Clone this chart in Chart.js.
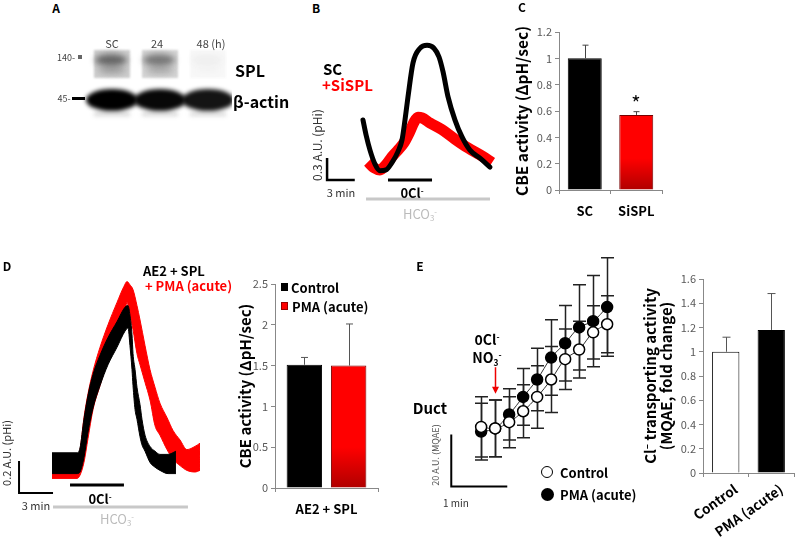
<!DOCTYPE html>
<html>
<head>
<meta charset="utf-8">
<script src="https://cdn.jsdelivr.net/npm/chart.js@4.4.0/dist/chart.umd.min.js"></script>
<style>
  body { margin: 0; background: #fff; }
  #fig { position: relative; width: 800px; height: 543px; overflow: hidden;
         font-family: "Noto Sans CJK KR", "Noto Sans", sans-serif; color: #000; }
  canvas { position: absolute; }
  .t { position: absolute; white-space: nowrap; line-height: 1; transform: translate(-50%, -50%); }
  .l { position: absolute; white-space: nowrap; line-height: 1; transform: translate(0, -50%); }
  .v { position: absolute; white-space: nowrap; line-height: 1; transform: translate(-50%, -50%) rotate(-90deg); }
  .b { font-weight: bold; }
  .sup { font-size: 0.6em; position: relative; top: -0.55em; }
  .sub { font-size: 0.6em; position: relative; top: 0.3em; }
</style>
</head>
<body>
<div id="fig">
  <canvas id="cA" width="172" height="85" style="left:60px;top:40px"></canvas>
  <canvas id="cB" width="200" height="182" style="left:310px;top:40px"></canvas>
  <canvas id="cC" width="161" height="203" style="left:509px;top:22px"></canvas>
  <canvas id="cD" width="215" height="250" style="left:0px;top:270px"></canvas>
  <canvas id="cD2" width="154" height="249" style="left:232px;top:274px"></canvas>
  <canvas id="cE" width="210" height="265" style="left:420px;top:240px"></canvas>
  <canvas id="cE2" width="160" height="274" style="left:640px;top:269px"></canvas>

  <!-- A -->
  <div class="t b" style="left:56px;top:8px;font-size:12px">A</div>
  <div class="t" style="left:112px;top:43px;font-size:11px;color:#444">SC</div>
  <div class="t" style="left:157px;top:43px;font-size:11px;color:#444">24</div>
  <div class="t" style="left:211px;top:43px;font-size:11px;color:#444">48 (h)</div>
  <div class="t" style="left:66px;top:57px;font-size:9px;color:#444">140-</div>
  <div class="t" style="left:64px;top:98px;font-size:9px;color:#444">45-</div>
  <div class="l b" style="left:235px;top:70px;font-size:16px">SPL</div>
  <div class="l b" style="left:233px;top:101px;font-size:16px">β-actin</div>

  <!-- B -->
  <div class="t b" style="left:316px;top:8px;font-size:12px">B</div>
  <div class="l b" style="left:323px;top:68px;font-size:15px">SC</div>
  <div class="l b" style="left:322px;top:84px;font-size:15px;color:#f00">+SiSPL</div>
  <div class="v" style="left:317px;top:145px;font-size:12px;color:#333">0.3 A.U. (pHi)</div>
  <div class="t" style="left:341px;top:192px;font-size:11px;color:#333">3 min</div>
  <div class="t b" style="left:412px;top:192px;font-size:13px">0Cl<span class="sup">-</span></div>
  <div class="t" style="left:420px;top:213px;font-size:13px;color:#bbb">HCO<span class="sub">3</span><span class="sup">-</span></div>

  <!-- C -->
  <div class="t b" style="left:522px;top:7px;font-size:12px">C</div>
  <div class="t" style="left:636px;top:103px;font-size:20px">*</div>

  <!-- D -->
  <div class="t b" style="left:7px;top:266px;font-size:12px">D</div>
  <div class="l b" style="left:143px;top:270px;font-size:13px">AE2 + SPL</div>
  <div class="l b" style="left:145px;top:285px;font-size:13px;color:#f00">+ PMA (acute)</div>
  <div class="v" style="left:6px;top:453px;font-size:11px;color:#333">0.2 A.U. (pHi)</div>
  <div class="t" style="left:36px;top:505px;font-size:11px;color:#333">3 min</div>
  <div class="t b" style="left:100px;top:498px;font-size:13px">0Cl<span class="sup">-</span></div>
  <div class="t" style="left:117px;top:518px;font-size:13px;color:#bbb">HCO<span class="sub">3</span><span class="sup">-</span></div>
  <div style="position:absolute;left:281px;top:283px;width:7px;height:8px;background:#000"></div>
  <div class="l b" style="left:291px;top:287px;font-size:13px">Control</div>
  <div style="position:absolute;left:281px;top:302px;width:7px;height:8px;background:#f00;box-shadow:inset 0 0 0 1px #900"></div>
  <div class="l b" style="left:292px;top:306px;font-size:13px">PMA (acute)</div>

  <!-- E -->
  <div class="t b" style="left:420px;top:266px;font-size:12px">E</div>
  <div class="t b" style="left:487px;top:339px;font-size:14px">0Cl<span class="sup">-</span></div>
  <div class="t b" style="left:487px;top:357px;font-size:14px">NO<span class="sub">3</span><span class="sup">-</span></div>
  <div class="t b" style="left:430px;top:407px;font-size:15px">Duct</div>
  <div class="v" style="left:435px;top:455px;font-size:9px;color:#555">20 A.U. (MQAE)</div>
  <div class="t" style="left:456px;top:503px;font-size:10px;color:#333">1 min</div>
  <div style="position:absolute;left:541px;top:466px;width:10px;height:10px;border:1.5px solid #000;border-radius:50%;background:#fff"></div>
  <div class="l b" style="left:560px;top:472px;font-size:13px">Control</div>
  <div style="position:absolute;left:541px;top:488px;width:13px;height:13px;border-radius:50%;background:#000"></div>
  <div class="l b" style="left:560px;top:494px;font-size:13px">PMA (acute)</div>
</div>

<script>
// ---------- data ----------
// A : western blot, relative band density per lane
const blotLanes = ['SC', '24', '48 (h)'];
const splBand = [0.8, 0.68, 0.05];
const actinBand = [1.0, 0.97, 0.92];

// B : pHi traces, time (min) / pHi (A.U.)
const bScT = [5.74, 6.07, 6.50, 7.04, 7.58, 8.23, 8.88, 9.53, 9.97, 10.29, 10.62, 11.16, 11.92, 12.68, 13.43, 13.98, 14.41, 14.95, 15.71, 16.47, 17.33, 18.42, 19.50];
const bScV = [1.39, 1.19, 0.98, 0.79, 0.70, 0.71, 0.81, 0.96, 1.12, 1.39, 1.71, 2.17, 2.37, 2.41, 2.37, 2.25, 2.05, 1.71, 1.39, 1.16, 0.98, 0.87, 0.75];
const bSiT = [6.28, 6.93, 7.58, 8.23, 8.88, 9.53, 10.18, 10.73, 11.27, 11.70, 12.13, 13.00, 14.30, 15.71, 17.12, 18.63, 19.72];
const bSiV = [0.82, 0.74, 0.71, 0.78, 0.89, 0.98, 1.08, 1.21, 1.36, 1.43, 1.42, 1.35, 1.26, 1.13, 1.01, 0.90, 0.81];
const bClSpan = [8.45, 13.22];   // 0Cl- perfusion (min)
const bHcoSpan = [6.07, 19.50];  // HCO3- perfusion (min)

// C : CBE activity
const cCats = ['SC', 'SiSPL'];
const cMean = [1.0, 0.57];
const cErr = [0.10, 0.025];

// D : pHi traces (noisy band: low / high envelope)
const dCtlT = [4.59, 6.80, 7.06, 7.41, 7.77, 8.21, 8.83, 9.53, 10.33, 11.03, 11.30, 11.47, 11.65, 11.74, 11.92, 12.09, 12.36, 12.53, 12.80, 13.24, 13.68, 14.12, 14.83, 15.53];
const dCtlHi = [0.42, 0.42, 0.45, 0.63, 0.78, 0.91, 1.03, 1.14, 1.24, 1.33, 1.34, 1.28, 1.16, 1.04, 0.94, 0.83, 0.72, 0.63, 0.53, 0.46, 0.43, 0.41, 0.41, 0.43];
const dCtlLo = [0.29, 0.29, 0.30, 0.39, 0.55, 0.70, 0.84, 0.97, 1.08, 1.18, 1.20, 1.09, 0.94, 0.84, 0.69, 0.63, 0.52, 0.47, 0.43, 0.36, 0.33, 0.31, 0.29, 0.29];
const dPmaT = [4.59, 6.80, 7.06, 7.41, 7.77, 8.21, 8.83, 9.53, 10.33, 10.94, 11.21, 11.47, 11.74, 12.09, 12.36, 12.80, 13.24, 13.68, 14.12, 14.74, 15.27, 15.89, 16.50, 17.21, 17.65];
const dPmaHi = [0.41, 0.41, 0.44, 0.64, 0.79, 0.93, 1.08, 1.22, 1.36, 1.46, 1.49, 1.47, 1.44, 1.34, 1.25, 1.09, 0.94, 0.83, 0.73, 0.64, 0.56, 0.50, 0.44, 0.46, 0.48];
const dPmaLo = [0.26, 0.26, 0.28, 0.36, 0.51, 0.69, 0.84, 1.00, 1.16, 1.26, 1.36, 1.28, 1.19, 1.04, 0.97, 0.86, 0.75, 0.59, 0.53, 0.44, 0.38, 0.34, 0.31, 0.30, 0.31];
const dClSpan = [6.18, 10.94];
const dHcoSpan = [4.68, 16.59];
const dCats = ['AE2 + SPL'];
const dCtlMean = [1.51], dCtlErr = [0.09];
const dPmaMean = [1.50], dPmaErr = [0.51];

// E : MQAE fluorescence, time (s) / A.U.
const eTime = [0, 15, 30, 45, 60, 75, 90, 105, 120, 135];
const eCtl = [27.3, 26.7, 29.1, 33.3, 38.8, 45.5, 53.3, 57.0, 63.6, 66.7];
const eCtlErr = [11.6, 10.9, 9.8, 10.2, 12.0, 12.7, 11.6, 10.9, 10.2, 10.9];
const ePma = [25.5, 26.7, 32.1, 38.8, 45.5, 53.9, 59.4, 65.5, 67.9, 73.3];
const ePmaErr = [10.9, 10.9, 9.8, 10.9, 12.0, 14.5, 14.5, 16.4, 17.5, 18.9];
const eCats = ['Control', 'PMA (acute)'];
const eMean = [1.0, 1.18];
const eErr = [0.12, 0.30];

// ---------- helpers ----------
Chart.defaults.font.family = '"Noto Sans CJK KR", "Noto Sans", sans-serif';
Chart.defaults.color = '#000';

const base = { responsive: false, animation: false, events: [] };
function opts(extra) {
  const o = Object.assign({}, base, extra);
  o.plugins = Object.assign({ legend: { display: false }, tooltip: { enabled: false } }, extra.plugins || {});
  return o;
}
const xy = (xs, ys) => xs.map((x, i) => ({ x: x, y: ys[i] }));
function line(data, color, w, extra) {
  return Object.assign({ data: data, borderColor: color, borderWidth: w, pointRadius: 0,
    fill: false, tension: 0, clip: false }, extra || {});
}
function freeScales(x0, x1, y0, y1) {
  return { x: { type: 'linear', display: false, min: x0, max: x1 },
           y: { type: 'linear', display: false, min: y0, max: y1 } };
}
function yAxis(max, step, title, size, w, lh, padTop) {
  return { min: 0, max: max,
    ticks: { stepSize: step, color: '#595959', font: { size: 11 }, padding: 3,
             callback: v => String(Math.round(v * 100) / 100) },
    grid: { drawOnChartArea: false, drawTicks: true, tickLength: 4, color: '#888' },
    border: { display: true, color: '#888' },
    title: { display: true, text: title, color: '#000', font: { size: size, weight: 'bold', lineHeight: lh || 1.2 },
             padding: { top: padTop === undefined ? 4 : padTop, bottom: 0 } },
    afterFit: s => { s.width = w; } };
}
function xAxis(h, size, pad, rot, shift) {
  return {
    grid: { drawOnChartArea: false, drawTicks: true, tickLength: 4, color: '#888', offset: true },
    border: { display: true, color: '#888' },
    ticks: { color: '#000', font: { size: size, weight: 'bold' }, padding: pad, minRotation: rot, maxRotation: rot,
             autoSkip: false, labelOffset: shift || 0 },
    afterFit: s => { s.height = h; s.paddingLeft = 0; s.paddingRight = 0; } };
}
function redGrad(c) {
  const a = c.chart.chartArea;
  if (!a) return '#f00';
  const g = c.chart.ctx.createLinearGradient(0, a.top, 0, a.bottom);
  g.addColorStop(0, '#ff0000');
  g.addColorStop(0.8, '#ff0000');
  g.addColorStop(1, '#b00000');
  return g;
}

// error bars (dataset.err holds the SEM for each point)
function drawErr(chart, o) {
  const ctx = chart.ctx;
  chart.data.datasets.forEach((ds, i) => {
    if (!ds.err) return;
    const meta = chart.getDatasetMeta(i);
    const ys = chart.scales[meta.yAxisID];
    ctx.save();
    ctx.strokeStyle = o.color;
    ctx.lineWidth = o.width;
    meta.data.forEach((el, j) => {
      const d = ds.data[j];
      const v = typeof d === 'object' ? d.y : d;
      const x = Math.round(el.x) + 0.5;
      const top = ys.getPixelForValue(v + ds.err[j]);
      const bot = o.both ? ys.getPixelForValue(v - ds.err[j]) : el.y;
      ctx.beginPath();
      ctx.moveTo(x, bot); ctx.lineTo(x, top);
      ctx.moveTo(x - o.cap / 2, top); ctx.lineTo(x + o.cap / 2, top);
      if (o.both) { ctx.moveTo(x - o.cap / 2, bot); ctx.lineTo(x + o.cap / 2, bot); }
      ctx.stroke();
    });
    ctx.restore();
  });
}
const errBars = {
  id: 'errBars',
  beforeDatasetsDraw(chart, args, o) { if (o.under) drawErr(chart, o); },
  afterDatasetsDraw(chart, args, o) { if (!o.under) drawErr(chart, o); }
};

// ---------- A : blot ----------
const blotPlugin = {
  id: 'blot',
  beforeDatasetsDraw(chart) {
    const ctx = chart.ctx, xs = chart.scales.x, a = chart.chartArea;
    ctx.save();
    blotLanes.forEach((lane, i) => {
      const cx = xs.getPixelForValue(i);
      // SPL strip
      ctx.filter = 'blur(0.8px)';
      ctx.fillStyle = 'rgba(150,150,150,' + (0.55 * splBand[i] + 0.04) + ')';
      ctx.fillRect(cx - 18, a.top + 10, 36, 28);
      ctx.filter = 'blur(3px)';
      ctx.fillStyle = 'rgba(50,50,50,' + (0.85 * splBand[i]) + ')';
      ctx.beginPath(); ctx.ellipse(cx - 1, a.top + 20, 16, 6, 0, 0, 2 * Math.PI); ctx.fill();
      ctx.fillStyle = 'rgba(90,90,90,' + (0.5 * splBand[i]) + ')';
      ctx.beginPath(); ctx.ellipse(cx, a.top + 30, 14, 4, 0, 0, 2 * Math.PI); ctx.fill();
      // beta-actin
      ctx.filter = 'blur(2px)';
      ctx.fillStyle = 'rgba(0,0,0,' + actinBand[i] + ')';
      ctx.beginPath(); ctx.ellipse(cx, a.top + 60, 26, 11, 0, 0, 2 * Math.PI); ctx.fill();
      ctx.filter = 'blur(2px)';
      ctx.fillStyle = 'rgba(90,90,90,' + (0.25 * actinBand[i]) + ')';
      ctx.fillRect(cx - 18, a.top + 72, 36, 4);
    });
    ctx.filter = 'none';
    ctx.fillStyle = '#000';
    ctx.fillRect(a.left - 16, a.top + 57, 13, 3);
    ctx.fillStyle = '#666';
    ctx.fillRect(a.left - 10, a.top + 15, 4, 4);
    ctx.restore();
  }
};
new Chart(document.getElementById('cA'), {
  type: 'bar',
  data: { labels: blotLanes, datasets: [] },
  options: opts({ layout: { padding: { left: 28 } },
    scales: { x: { display: false, offset: true }, y: { display: false, min: 0, max: 1 } } }),
  plugins: [blotPlugin]
});

// ---------- B : traces ----------
const B_PX_MIN = 9.23, B_PX_AU = 73.33;
const bBase = 0.573;
new Chart(document.getElementById('cB'), {
  type: 'line',
  data: { datasets: [
    line(xy(bScT, bScV), '#000', 5, { cubicInterpolationMode: 'monotone', borderJoinStyle: 'round', borderCapStyle: 'round' }),
    line(xy(bSiT, bSiV), '#f00', 11, { cubicInterpolationMode: 'monotone', borderJoinStyle: 'round' }),
    line([{ x: 1.85, y: bBase + 0.3 }, { x: 1.85, y: bBase }, { x: 4.85, y: bBase }], '#000', 2.5),
    line(xy(bClSpan, [bBase, bBase]), '#000', 3),
    line(xy(bHcoSpan, [0.314, 0.314]), '#c8c8c8', 3)
  ] },
  options: opts({ layout: { padding: 0 }, scales: freeScales(0, 200 / B_PX_MIN, 0, 182 / B_PX_AU) })
});

// ---------- C : bars ----------
new Chart(document.getElementById('cC'), {
  type: 'bar',
  data: { labels: cCats, datasets: [{
    data: cMean, err: cErr,
    backgroundColor: c => c.dataIndex === 1 ? redGrad(c) : '#000',
    borderColor: ['#000', '#700'], borderWidth: 1,
    categoryPercentage: 1, barPercentage: 0.66
  }] },
  options: opts({ layout: { padding: { top: 10, right: 8 } },
    scales: { x: xAxis(35, 13, 9, 0), y: yAxis(1.2, 0.2, 'CBE activity (ΔpH/sec)', 15.5, 50) },
    plugins: { errBars: { under: false, both: false, cap: 6, width: 1, color: '#444' } } }),
  plugins: [errBars]
});

// ---------- D : traces ----------
const D_PX_MIN = 11.33, D_PX_AU = 160;
const env = (t, lo, hi, color) => [
  line(xy(t, lo), color, 1, { cubicInterpolationMode: 'monotone' }),
  line(xy(t, hi), color, 1, { cubicInterpolationMode: 'monotone', fill: { target: '-1' }, backgroundColor: color })
];
new Chart(document.getElementById('cD'), {
  type: 'line',
  data: { datasets: [
    ...env(dCtlT, dCtlLo, dCtlHi, '#000'),
    ...env(dPmaT, dPmaLo, dPmaHi, '#f00'),
    line([{ x: 1.68, y: 0.369 }, { x: 1.68, y: 0.169 }, { x: 4.68, y: 0.169 }], '#000', 2),
    line(xy(dClSpan, [0.219, 0.219]), '#000', 3),
    line(xy(dHcoSpan, [0.081, 0.081]), '#c8c8c8', 3)
  ] },
  options: opts({ layout: { padding: 0 }, scales: freeScales(0, 215 / D_PX_MIN, 0, 250 / D_PX_AU) })
});

// ---------- D : bars ----------
new Chart(document.getElementById('cD2'), {
  type: 'bar',
  data: { labels: dCats, datasets: [
    { label: 'Control', data: dCtlMean, err: dCtlErr, backgroundColor: '#000', borderColor: '#000', borderWidth: 1,
      categoryPercentage: 0.86, barPercentage: 0.8 },
    { label: 'PMA (acute)', data: dPmaMean, err: dPmaErr, backgroundColor: redGrad, borderColor: '#700', borderWidth: 1,
      categoryPercentage: 0.86, barPercentage: 0.8 }
  ] },
  options: opts({ layout: { padding: { top: 10, right: 8 } },
    scales: { x: xAxis(35, 13, 9, 0), y: yAxis(2.5, 0.5, 'CBE activity (ΔpH/sec)', 15, 43) },
    plugins: { errBars: { under: false, both: false, cap: 7, width: 1, color: '#555' } } }),
  plugins: [errBars]
});

// ---------- E : MQAE time course ----------
const E_PX_S = 1, E_PX_AU = 2.75;
const arrowPlugin = {
  id: 'arrow',
  afterDatasetsDraw(chart, args, o) {
    const ctx = chart.ctx;
    const x = Math.round(chart.scales.x.getPixelForValue(o.t)) + 0.5;
    const y1 = chart.scales.y.getPixelForValue(o.from), y2 = chart.scales.y.getPixelForValue(o.to);
    ctx.save();
    ctx.strokeStyle = '#e00'; ctx.fillStyle = '#e00'; ctx.lineWidth = 1.5;
    ctx.beginPath(); ctx.moveTo(x, y1); ctx.lineTo(x, y2 - 6); ctx.stroke();
    ctx.beginPath(); ctx.moveTo(x - 3.5, y2 - 7); ctx.lineTo(x + 3.5, y2 - 7); ctx.lineTo(x, y2); ctx.closePath(); ctx.fill();
    ctx.restore();
  }
};
new Chart(document.getElementById('cE'), {
  type: 'line',
  data: { datasets: [
    { data: xy(eTime, eCtl), err: eCtlErr, borderColor: '#333', borderWidth: 1, tension: 0.35, clip: false,
      pointRadius: 5.5, pointBackgroundColor: '#fff', pointBorderColor: '#000', pointBorderWidth: 1.5 },
    { data: xy(eTime, ePma), err: ePmaErr, borderColor: '#333', borderWidth: 1, tension: 0.35, clip: false,
      pointRadius: 5.5, pointBackgroundColor: '#000', pointBorderColor: '#000', pointBorderWidth: 1.5 },
    line([{ x: -32, y: 24.4 }, { x: -32, y: 4.4 }, { x: 28, y: 4.4 }], '#000', 2)
  ] },
  options: opts({ layout: { padding: 0 }, scales: freeScales(-58 / E_PX_S, 152 / E_PX_S, 0, 265 / E_PX_AU),
    plugins: { errBars: { under: true, both: true, cap: 13, width: 1.5, color: '#222' },
               arrow: { t: 15, from: 50.2, to: 40 } } }),
  plugins: [errBars, arrowPlugin]
});

// ---------- E : bars ----------
new Chart(document.getElementById('cE2'), {
  type: 'bar',
  data: { labels: eCats, datasets: [{
    data: eMean, err: eErr, backgroundColor: ['#fff', '#000'], borderColor: '#000', borderWidth: 1,
    categoryPercentage: 1, barPercentage: 0.6
  }] },
  options: opts({ layout: { padding: { top: 10, right: 6 } },
    scales: { x: xAxis(70, 13.5, 4, 35, 10),
              y: yAxis(1.6, 0.2, ['Cl⁻ transporting activity', '(MQAE, fold change)'], 15, 63, 1.1, 2) },
    plugins: { errBars: { under: false, both: false, cap: 8, width: 1, color: '#555' } } }),
  plugins: [errBars]
});
</script>
</body>
</html>
